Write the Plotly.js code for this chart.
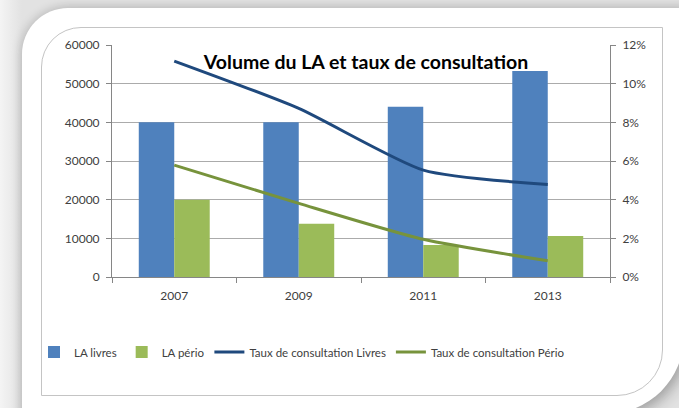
<!DOCTYPE html>
<html>
<head>
<meta charset="utf-8">
<script src="https://cdn.plot.ly/plotly-3.0.1.min.js"></script>
<style>
  html, body { margin:0; padding:0; width:679px; height:408px; overflow:hidden;
    background: linear-gradient(90deg, #f4f4f4 0px, #e2e2e2 22px, #e2e2e2 100%); }
  #card { position:absolute; left:22px; top:8px; width:662px; height:406px; background:#fff;
    border-radius:46px 0 78px 0; box-shadow: 0 0 8px 3px rgba(0,0,0,0.12), 6px 6px 14px rgba(0,0,0,0.18); }
  #panel { position:absolute; left:41px; top:27px; width:620px; height:367px;
    border:1px solid #c4c4c4; border-radius:40px 0 46px 0; background:#fff; }
  #chart { position:absolute; left:0; top:0; width:679px; height:408px; }
</style>
</head>
<body>
<div id="card"></div>
<div id="panel"></div>
<div id="chart"></div>
<script>
const years = ['2007', '2009', '2011', '2013'];
const laLivres = [40000, 40000, 44000, 53300];
const laPerio = [20000, 13800, 8300, 10600];
const tauxLivres = [0.1117, 0.0872, 0.0553, 0.0478];
const tauxPerio = [0.0579, 0.0381, 0.0195, 0.0084];
const seriesNames = ['LA livres', 'LA pério', 'Taux de consultation Livres', 'Taux de consultation Pério'];

const data = [
  { type:'bar', x: years, y: laLivres, name: seriesNames[0], marker:{color:'#4F81BD'} },
  { type:'bar', x: years, y: laPerio, name: seriesNames[1], marker:{color:'#9BBB59'} },
  { type:'scatter', mode:'lines', x: years, y: tauxLivres, name: seriesNames[2], yaxis:'y2',
    line:{color:'#1F497D', width:3, shape:'spline', smoothing:0.6} },
  { type:'scatter', mode:'lines', x: years, y: tauxPerio, name: seriesNames[3], yaxis:'y2',
    line:{color:'#77933C', width:3, shape:'spline', smoothing:0.6} }
];

const tickFont = {family:'Lato, "Open Sans", sans-serif', size:12, color:'#404040'};
const layout = {
  width:679, height:408,
  margin:{l:112, r:69, t:45, b:131, pad:0},
  paper_bgcolor:'rgba(0,0,0,0)', plot_bgcolor:'rgba(0,0,0,0)',
  font: tickFont,
  title:{ text:'<b>Volume du LA et taux de consultation</b>', x:366/679, xanchor:'center',
    y:1-62/408, yanchor:'middle', yref:'container', xref:'container',
    font:{family:'Lato, "Open Sans", sans-serif', size:19.5, color:'#000'} },
  barmode:'group', bargap:0.43, bargroupgap:0,
  xaxis:{ type:'category', tickson:'boundaries', ticks:'outside', ticklen:5, tickcolor:'#868686',
    showline:true, linecolor:'#868686', linewidth:1, showgrid:false, tickfont:tickFont,
    ticklabelstandoff:8, fixedrange:true },
  yaxis:{ range:[0,60000], dtick:10000, tickformat:'d', ticks:'outside', ticklen:5, tickcolor:'#868686',
    showline:true, linecolor:'#868686', gridcolor:'#ababab', gridwidth:1, zeroline:false,
    tickfont:tickFont, ticklabelstandoff:4 },
  yaxis2:{ range:[0,0.12], dtick:0.02, tickformat:'.0%', overlaying:'y', side:'right',
    ticks:'outside', ticklen:5, tickcolor:'#868686', showline:true, linecolor:'#868686',
    showgrid:false, zeroline:false, tickfont:tickFont, ticklabelstandoff:4 },
  showlegend:true,
  legend:{ orientation:'h', x:(34-112)/498, xanchor:'left', y:(277-352)/232, yanchor:'middle',
    font:{family:'Lato, "Open Sans", sans-serif', size:11.5, color:'#404040'},
    bgcolor:'rgba(0,0,0,0)', itemwidth:30, tracegroupgap:0, traceorder:'normal' }
};
Plotly.newPlot('chart', data, layout, {displayModeBar:false, staticPlot:true});
</script>
</body>
</html>
